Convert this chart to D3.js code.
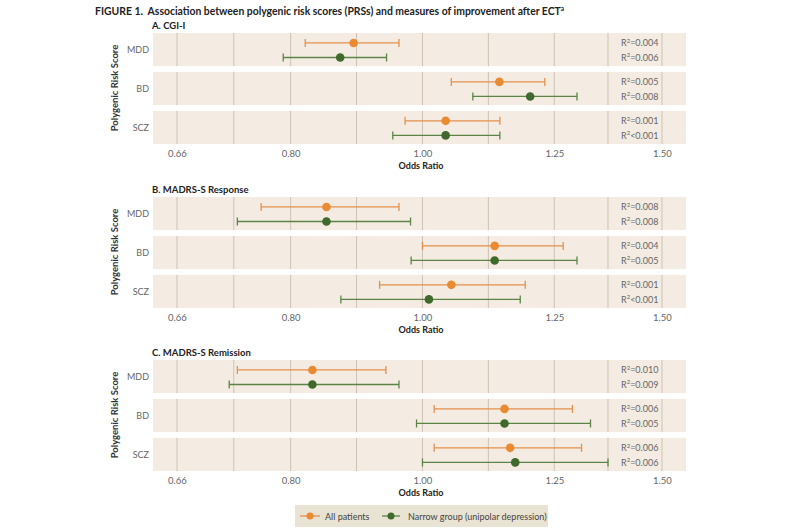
<!DOCTYPE html>
<html>
<head>
<meta charset="utf-8">
<script src="https://cdn.jsdelivr.net/npm/d3@7"></script>
<style>
  html, body { margin: 0; padding: 0; background: #ffffff; }
  svg { display: block; font-family: Lato, "Open Sans", sans-serif; }
</style>
</head>
<body>
<svg id="chart" width="800" height="530"></svg>
<script>
// ---------------- DATA ----------------
const panelTitles = ["A. CGI-I", "B. MADRS-S Response", "C. MADRS-S Remission"];
const scores = ["MDD", "BD", "SCZ"];
const seriesNames = ["All patients", "Narrow group (unipolar depression)"];
const tickValues = [0.66, 0.80, 1.00, 1.25, 1.50];
const tickLabels = ["0.66", "0.80", "1.00", "1.25", "1.50"];
const gridValues = [0.66, 0.7266, 0.80, 0.8944, 1.00, 1.118, 1.25, 1.369, 1.50];

// odds ratio [OR, lower CI, upper CI] per panel, per score (MDD, BD, SCZ)
const allPatients = [
  [[0.890, 0.820, 0.961], [1.139, 1.050, 1.230], [1.040, 0.971, 1.140]],
  [[0.850, 0.761, 0.961], [1.130, 1.000, 1.269], [1.050, 0.930, 1.190]],
  [[0.830, 0.731, 0.940], [1.149, 1.020, 1.289], [1.160, 1.020, 1.309]]
];
const narrowGroup = [
  [[0.870, 0.790, 0.941], [1.200, 1.089, 1.299], [1.040, 0.951, 1.140]],
  [[0.850, 0.731, 0.980], [1.130, 0.981, 1.299], [1.011, 0.871, 1.180]],
  [[0.830, 0.721, 0.961], [1.149, 0.990, 1.329], [1.170, 1.000, 1.369]]
];
const r2All = [
  ["0.004", "0.005", "0.001"],
  ["0.008", "0.004", "0.001"],
  ["0.010", "0.006", "0.006"]
];
const r2Narrow = [
  ["0.006", "0.008", "<0.001"],
  ["0.008", "0.005", "<0.001"],
  ["0.009", "0.005", "0.006"]
];

// ---------------- STYLE ----------------
const orange = "#ea8a33";
const orangeLine = "#e4904a";
const green = "#3f6a2b";
const greenLine = "#5b8446";
const panelBg = "#f4ece2";
const gridColor = "#cdc2b4";

const svg = d3.select("#chart");

// Title
const title = svg.append("text")
  .attr("x", 95).attr("y", 15)
  .attr("font-size", 10.4).attr("font-weight", 700).attr("fill", "#222")
  .attr("xml:space", "preserve");
title.append("tspan").text("FIGURE 1.  Association between polygenic risk scores (PRSs) and measures of improvement after ECT");
title.append("tspan").attr("font-size", 6.5).attr("dy", -4).text("a");

const x = d3.scaleLog().domain([0.66, 1.5]).range([177, 662]);
const bgLeft = 153, bgRight = 686;
const panelTops = [33, 197, 360];
const seriesColors = [orange, green];
const seriesLineColors = [orangeLine, greenLine];
const seriesData = [allPatients, narrowGroup];
const r2Data = [r2All, r2Narrow];

panelTops.forEach((top, p) => {
  const g = svg.append("g");
  const y = d3.scaleBand().domain(scores).range([top, top + 111]).paddingInner(0.15);
  const bw = y.bandwidth();
  const offs = [bw * 0.30, bw * 0.74];

  // panel title
  g.append("text").attr("x", 152).attr("y", top - 4)
    .attr("font-size", 9.5).attr("font-weight", 700).attr("fill", "#222")
    .text(panelTitles[p]);

  // y-axis title
  g.append("text")
    .attr("transform", `translate(118,${top + 55}) rotate(-90)`)
    .attr("text-anchor", "middle")
    .attr("font-size", 9.5).attr("font-weight", 700).attr("fill", "#333")
    .text("Polygenic Risk Score");

  scores.forEach((s, i) => {
    const by = y(s);
    g.append("rect").attr("x", bgLeft).attr("y", by)
      .attr("width", bgRight - bgLeft).attr("height", bw).attr("fill", panelBg);
    g.selectAll(null).data(gridValues).enter().append("line")
      .attr("x1", d => x(d)).attr("x2", d => x(d))
      .attr("y1", by).attr("y2", by + bw)
      .attr("stroke", gridColor).attr("stroke-width", 1);
    g.append("text").attr("x", 149).attr("y", by + bw / 2 + 3.5)
      .attr("text-anchor", "end").attr("font-size", 9).attr("fill", "#666")
      .text(s);

    [0, 1].forEach(k => {
      const d = seriesData[k][p][i];
      const cy = by + offs[k];
      const col = seriesColors[k], lc = seriesLineColors[k];
      g.append("line").attr("x1", x(d[1])).attr("x2", x(d[2]))
        .attr("y1", cy).attr("y2", cy).attr("stroke", lc).attr("stroke-width", 1.3);
      [d[1], d[2]].forEach(v => {
        g.append("line").attr("x1", x(v)).attr("x2", x(v))
          .attr("y1", cy - 4).attr("y2", cy + 4).attr("stroke", lc).attr("stroke-width", 1.3);
      });
      g.append("circle").attr("cx", x(d[0])).attr("cy", cy).attr("r", 4.3).attr("fill", col);

      const r2 = r2Data[k][p][i];
      const t = g.append("text").attr("x", 621).attr("y", cy + 3.5)
        .attr("font-size", 9).attr("fill", "#666");
      t.append("tspan").text("R");
      t.append("tspan").attr("font-size", 6).attr("dy", -3.5).text("2");
      t.append("tspan").attr("dy", 3.5).text(r2.startsWith("<") ? r2 : "=" + r2);
    });
  });

  // axis ticks
  const axisY = top + 111;
  const axis = d3.axisBottom(x).tickValues(tickValues)
    .tickFormat((d, i) => tickLabels[i]).tickSize(0).tickPadding(6);
  const ag = g.append("g").attr("transform", `translate(0,${axisY})`).call(axis);
  ag.select(".domain").remove();
  ag.selectAll("text").attr("font-size", 9.5).attr("fill", "#666")
    .attr("font-family", "Lato, 'Open Sans', sans-serif");

  g.append("text").attr("x", 421).attr("y", axisY + 25)
    .attr("text-anchor", "middle").attr("font-size", 9).attr("font-weight", 700)
    .attr("fill", "#222").text("Odds Ratio");
});

// Legend
const lg = svg.append("g");
lg.append("rect").attr("x", 295).attr("y", 505).attr("width", 253).attr("height", 22).attr("fill", "#e9e3d3");
const legendX = [[300, 320, 325], [382, 400, 408]];
seriesNames.forEach((name, k) => {
  const [x1, x2, tx] = legendX[k];
  lg.append("line").attr("x1", x1).attr("x2", x2).attr("y1", 516).attr("y2", 516)
    .attr("stroke", seriesLineColors[k]).attr("stroke-width", 1.3);
  lg.append("circle").attr("cx", (x1 + x2) / 2).attr("cy", 516).attr("r", 3.5).attr("fill", seriesColors[k]);
  lg.append("text").attr("x", tx).attr("y", 519.5).attr("font-size", 9).attr("fill", "#444").text(name);
});
</script>
</body>
</html>
